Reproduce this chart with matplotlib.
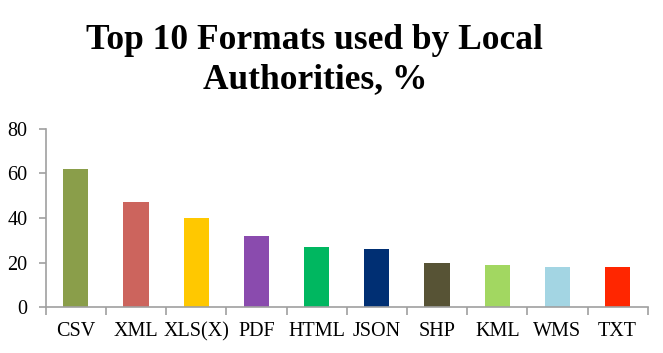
import matplotlib.pyplot as plt

formats = ['CSV', 'XML', 'XLS(X)', 'PDF', 'HTML', 'JSON', 'SHP', 'KML', 'WMS', 'TXT']
percent = [62, 47, 40, 32, 27, 26, 20, 19, 18, 18]
colors = ['#8A9E4A', '#CC645D', '#FFC800', '#8A4BAE', '#00B760', '#002F73',
          '#575335', '#A2D761', '#A3D5E3', '#FF2600']

plt.rcParams['font.family'] = ['Liberation Serif', 'DejaVu Serif']

fig = plt.figure(figsize=(6.63, 3.53), dpi=100)
ax = fig.add_axes([0.069, 0.13, 0.908, 0.505])

x = range(len(formats))
ax.bar(x, percent, width=0.42, color=colors)

ax.set_xlim(-0.5, len(formats) - 0.5)
ax.set_ylim(0, 80)
ax.set_yticks([0, 20, 40, 60, 80])
ax.set_xticks(list(x))
ax.set_xticklabels(formats, fontsize=14.5)
ax.tick_params(axis='y', labelsize=14.5, length=5, color='#A0A0A0', width=1.2, pad=8)
ax.tick_params(axis='x', length=0, pad=11)
# separators between categories
ax.set_xticks([i - 0.5 for i in range(len(formats) + 1)], minor=True)
ax.tick_params(axis='x', which='minor', length=6, color='#A0A0A0', width=1.2)

for side in ['top', 'right']:
    ax.spines[side].set_visible(False)
for side in ['left', 'bottom']:
    ax.spines[side].set_color('#A0A0A0')
    ax.spines[side].set_linewidth(1.2)

fig.text(0.475, 0.83, 'Top 10 Formats used by Local\nAuthorities, %',
         ha='center', va='center', fontsize=25.5, fontweight='bold',
         linespacing=1.25)

fig.savefig('out.png', dpi=100)
